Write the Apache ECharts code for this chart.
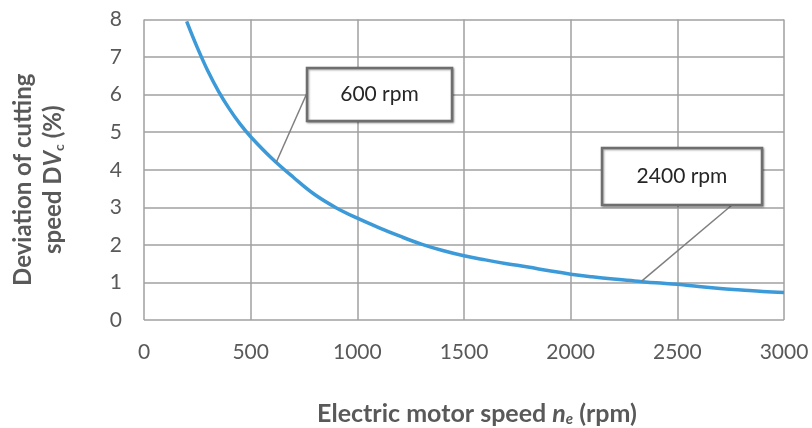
<!DOCTYPE html>
<html><head><meta charset="utf-8">
<script src="https://cdn.jsdelivr.net/npm/echarts@6/dist/echarts.min.js"></script>
<style>html,body{margin:0;padding:0;background:#fff}#c{width:812px;height:428px}</style>
</head><body><div id="c"></div>
<script>
// Data
const speedRpm = [200,250,300,350,400,450,500,600,700,800,900,1000,1100,1200,1300,1400,1500,1600,1700,1800,1900,2000,2100,2200,2300,2400,2500,2600,2700,2800,2900,3000];
const deviationPct = [7.95,7.25,6.62,6.08,5.62,5.22,4.88,4.3,3.8,3.34,2.99,2.71,2.46,2.23,2.02,1.85,1.71,1.6,1.5,1.41,1.31,1.22,1.15,1.09,1.04,0.99,0.95,0.89,0.84,0.8,0.76,0.73];
const xTicks = [0,500,1000,1500,2000,2500,3000];
const yTicks = [0,1,2,3,4,5,6,7,8];
const annotations = [
  {label: '600 rpm', x: 620, y: 4.2},
  {label: '2400 rpm', x: 2330, y: 1.02}
];

const FONT = 'Lato';
const grey = '#595959';
const chart = echarts.init(document.getElementById('c'), null, {renderer: 'canvas'});
const option = {
  animation: false,
  backgroundColor: '#fff',
  grid: {left: 144, right: 28, top: 19.5, bottom: 108, containLabel: false, outerBoundsMode: 'none'},
  xAxis: {
    type: 'value', min: xTicks[0], max: xTicks[xTicks.length-1], interval: 500,
    axisLine: {show: false}, axisTick: {show: false},
    axisLabel: {color: grey, fontFamily: FONT, fontSize: 21, margin: 22, formatter: v => String(v)},
    splitLine: {show: true, lineStyle: {color: '#a0a0a0', width: 1.5}},
    name: 'Electric motor speed {it|n}{sub|e} (rpm)',
    nameLocation: 'middle', nameGap: 80,
    nameTextStyle: {color: grey, fontFamily: FONT, fontSize: 25, fontWeight: 'bold', padding: [0,0,0,26],
      rich: {it: {fontStyle: 'italic', fontWeight: 'bold', fontFamily: FONT, fontSize: 25, color: grey},
             sub: {fontSize: 15, fontWeight: 'bold', fontStyle: 'italic', fontFamily: FONT, color: grey, padding: [12,0,0,0]}}}
  },
  yAxis: {
    type: 'value', min: yTicks[0], max: yTicks[yTicks.length-1], interval: 1,
    axisLine: {show: false}, axisTick: {show: false},
    axisLabel: {color: grey, fontFamily: FONT, fontSize: 21, margin: 22},
    splitLine: {show: true, lineStyle: {color: '#a0a0a0', width: 1.5}},
    name: 'Deviation of cutting\nspeed D{it|V}{sub|c} (%)',
    nameLocation: 'middle', nameGap: 76, nameRotate: 90,
    nameTextStyle: {color: grey, fontFamily: FONT, fontSize: 24, fontWeight: 'bold', lineHeight: 30, align: 'center', padding: [0,20,0,0],
      rich: {it: {fontStyle: 'italic', fontWeight: 'bold', fontFamily: FONT, fontSize: 24, color: grey, lineHeight: 30},
             sub: {fontSize: 14, fontWeight: 'bold', fontFamily: FONT, color: grey, padding: [12,0,0,0], lineHeight: 30}}}
  },
  series: [{
    type: 'line', smooth: 0.4, showSymbol: false,
    data: speedRpm.map((x,i)=>[x, deviationPct[i]]),
    lineStyle: {color: '#3d9ad8', width: 3.5}
  }]
};
chart.setOption(option);

// Annotation callouts (box layout in pixels, target point via axes)
const boxes = [
  {x: 307, y: 68, w: 145, h: 53, fromX: 307, fromY: 93},
  {x: 602, y: 148, w: 160, h: 57, fromX: 732, fromY: 205}
];
const graphics = [];
annotations.forEach((a, i) => {
  const p = chart.convertToPixel({gridIndex: 0}, [a.x, a.y]);
  const b = boxes[i];
  graphics.push({type: 'line', shape: {x1: b.fromX, y1: b.fromY, x2: p[0], y2: p[1]}, style: {stroke: '#7f7f7f', lineWidth: 1.5}, z: 100});
  graphics.push({type: 'rect', shape: {x: b.x, y: b.y, width: b.w, height: b.h},
    style: {fill: '#fff', stroke: '#6e6e6e', lineWidth: 2.5, shadowBlur: 2, shadowColor: 'rgba(0,0,0,0.35)', shadowOffsetX: 1, shadowOffsetY: 1}, z: 101});
  graphics.push({type: 'text', x: b.x + b.w/2, y: b.y + b.h/2, style: {text: a.label, fill: '#262626', font: '21px ' + FONT, align: 'center', verticalAlign: 'middle'}, z: 102});
});
chart.setOption({graphic: graphics});
</script>
</body></html>
